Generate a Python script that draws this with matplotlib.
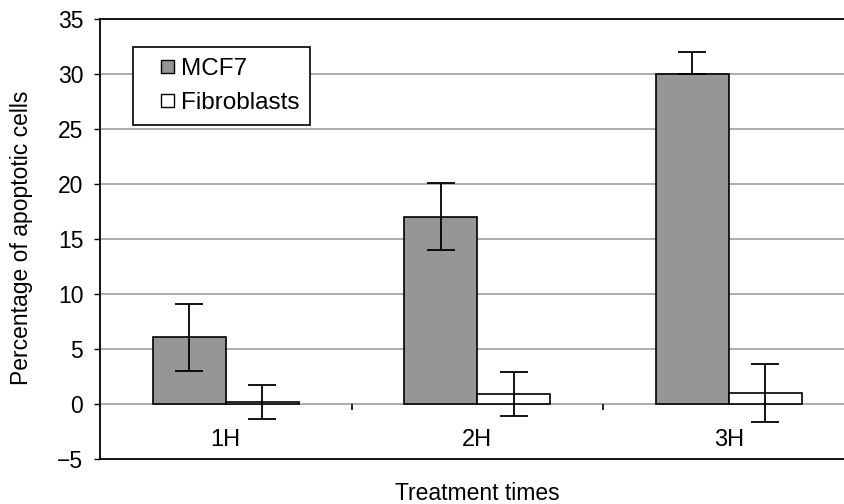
import matplotlib
matplotlib.use("Agg")
import matplotlib.pyplot as plt
import numpy as np
from matplotlib.patches import Patch, Rectangle
from matplotlib.legend_handler import HandlerPatch

categories = ["1H", "2H", "3H"]
mcf7 = [6.1, 17.0, 30.0]
mcf7_err_low = [3.1, 3.0, 0.0]
mcf7_err_high = [3.0, 3.1, 2.0]
fibro = [0.15, 0.95, 1.0]
fibro_err = [1.55, 2.0, 2.6]
series_names = ["MCF7", "Fibroblasts"]
yticks = [-5, 0, 5, 10, 15, 20, 25, 30, 35]

plt.rcParams['font.family'] = ['Liberation Sans', 'DejaVu Sans']

W, H = 844, 504
fig = plt.figure(figsize=(W / 100, H / 100), dpi=100)
ax = fig.add_axes([100 / W, 1 - 459 / H, 754.5 / W, 440 / H])

n = len(categories)
centers = np.arange(n) + 0.5
bw = 0.29

ax.bar(centers - bw / 2, mcf7, width=bw, color="#969696", edgecolor="black",
       linewidth=1.2, zorder=3)
ax.bar(centers + bw / 2, fibro, width=bw, color="white", edgecolor="black",
       linewidth=1.2, zorder=3)
ax.errorbar(centers - bw / 2, mcf7, yerr=[mcf7_err_low, mcf7_err_high], fmt="none",
            ecolor="black", elinewidth=1.3, capsize=10, capthick=1.3, zorder=4)
ax.errorbar(centers + bw / 2, fibro, yerr=fibro_err, fmt="none",
            ecolor="black", elinewidth=1.3, capsize=10, capthick=1.3, zorder=4)

ax.set_xlim(0, n)
ax.set_ylim(yticks[0], yticks[-1])
ax.set_yticks(yticks)
ax.set_yticklabels([f"{t}".replace("-", "\u2212") for t in yticks])
for t in yticks[1:-1]:
    ax.axhline(t, color="#a6a6a6", linewidth=1.3, zorder=1)

# category boundary tick marks on zero line
ax.vlines(np.arange(1, n), -0.55, 0, color="black", linewidth=1.2, zorder=2)

ax.set_xticks([])
for c, lab in zip(centers, categories):
    ax.text(c, -3.3, lab, ha="center", va="center", fontsize=17)

ax.tick_params(axis="y", direction="out", length=4, width=1, pad=8, labelsize=16.5)
ax.spines["right"].set_visible(False)
for s in ["left", "top", "bottom"]:
    ax.spines[s].set_linewidth(1.3)
    ax.spines[s].set_color("black")

ax.set_ylabel("Percentage of apoptotic cells", fontsize=16.5)
ax.yaxis.set_label_coords((22 - 100) / 754.5, (459 - 238) / 440)
ax.yaxis.label.set_va("center")
ax.set_xlabel("Treatment times", fontsize=16.5)
ax.xaxis.set_label_coords(0.5, (459 - 494) / 440)
ax.xaxis.label.set_va("center")


def square_patch(legend, orig_handle, xdescent, ydescent, width, height, fontsize):
    s = 9.5
    return Rectangle((-xdescent + width - s, -ydescent + (height - s) / 2), s, s)


handles = [Patch(facecolor="#969696", edgecolor="black", linewidth=1),
           Patch(facecolor="white", edgecolor="black", linewidth=1)]
leg = ax.legend(handles, series_names, loc="upper left",
                bbox_to_anchor=((133.3 - 100) / 754.5, (459 - 46.7) / 440),
                borderaxespad=0, fontsize=17.5, fancybox=False, framealpha=1,
                edgecolor="black", handlelength=1.22, handleheight=0.66,
                handletextpad=0.28, borderpad=0.45, labelspacing=0.5,
                handler_map={Patch: HandlerPatch(patch_func=square_patch)})
leg.get_frame().set_linewidth(1.2)
leg.set_zorder(5)

fig.savefig("out.png", dpi=100)
